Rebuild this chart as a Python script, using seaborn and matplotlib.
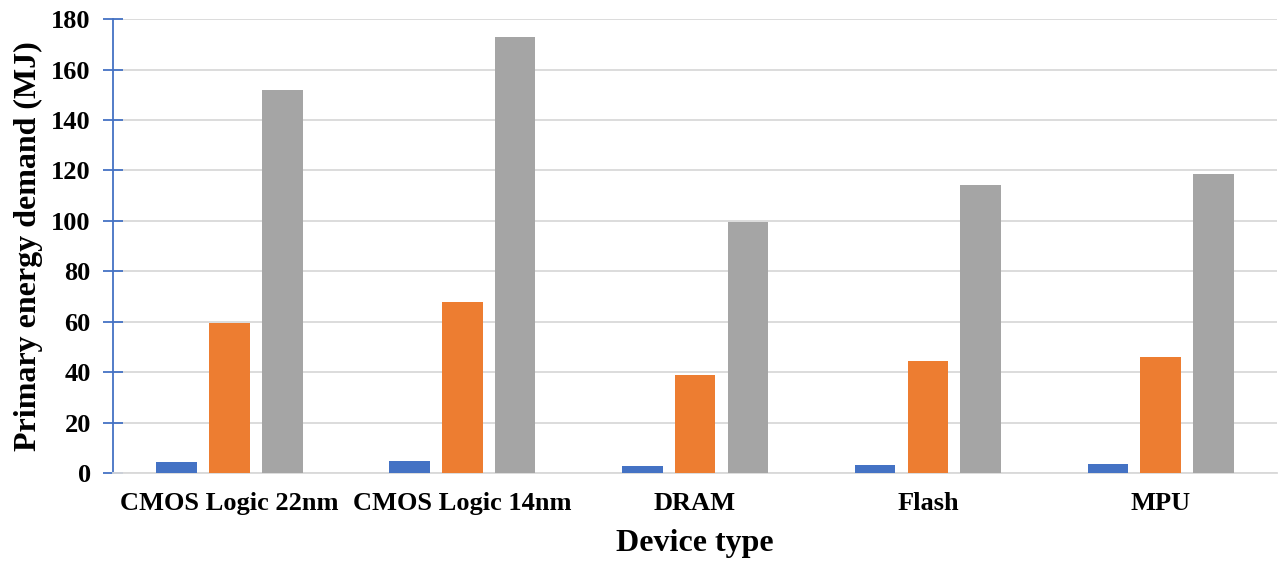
import pandas as pd
import seaborn as sns
import matplotlib.pyplot as plt

devices = ["CMOS Logic 22nm", "CMOS Logic 14nm", "DRAM", "Flash", "MPU"]
series_a = [4.4, 4.8, 2.8, 3.2, 3.4]
series_b = [59.5, 67.8, 38.9, 44.4, 46.0]
series_c = [151.9, 172.9, 99.5, 114.2, 118.6]
series_names = ["Series 1", "Series 2", "Series 3"]
colors = ["#4472C4", "#ED7D31", "#A5A5A5"]

df = pd.DataFrame({
    "device": devices * 3,
    "energy": series_a + series_b + series_c,
    "series": [s for s in series_names for _ in devices],
})

sns.set_style("white")
plt.rcParams['font.family'] = ['Liberation Serif', 'DejaVu Serif']
plt.rcParams['font.weight'] = 'bold'
plt.rcParams['text.color'] = 'black'
plt.rcParams['axes.labelcolor'] = 'black'
plt.rcParams['xtick.color'] = 'black'
plt.rcParams['ytick.color'] = 'black'

fig = plt.figure(figsize=(12.78, 5.63), dpi=100)
ax = fig.add_axes([0.0884, 0.160, 0.911, 0.806])

sns.barplot(data=df, x="device", y="energy", hue="series", palette=colors,
            saturation=1, linewidth=0, width=0.68, gap=0.23, legend=False,
            ax=ax, zorder=3)

ax.set_ylim(0, 180)
ax.set_yticks(range(0, 181, 20))
ax.set_xlim(-0.5, 4.5)
ax.grid(axis="y", color="#D9D9D9", linewidth=1.3, zorder=0)
ax.set_axisbelow(True)

for s in ["top", "right"]:
    ax.spines[s].set_visible(False)
ax.spines["left"].set_color("#4472C4")
ax.spines["left"].set_linewidth(1.3)
ax.spines["bottom"].set_color("#D9D9D9")
ax.spines["bottom"].set_linewidth(1.3)

ax.tick_params(axis="y", left=True, direction="inout", length=14, width=1.3,
               color="#4472C4", labelcolor="black", labelsize=19, pad=9)
ax.tick_params(axis="x", bottom=False, labelsize=19, labelcolor="black", pad=10)
for lbl in ax.get_xticklabels() + ax.get_yticklabels():
    lbl.set_fontweight("bold")

ax.set_xlabel("Device type", fontsize=23, fontweight="bold", labelpad=10, color="black")
ax.set_ylabel("Primary energy demand (MJ)", fontsize=23, fontweight="bold",
              labelpad=6, color="black")

fig.savefig("out.png", dpi=100)
